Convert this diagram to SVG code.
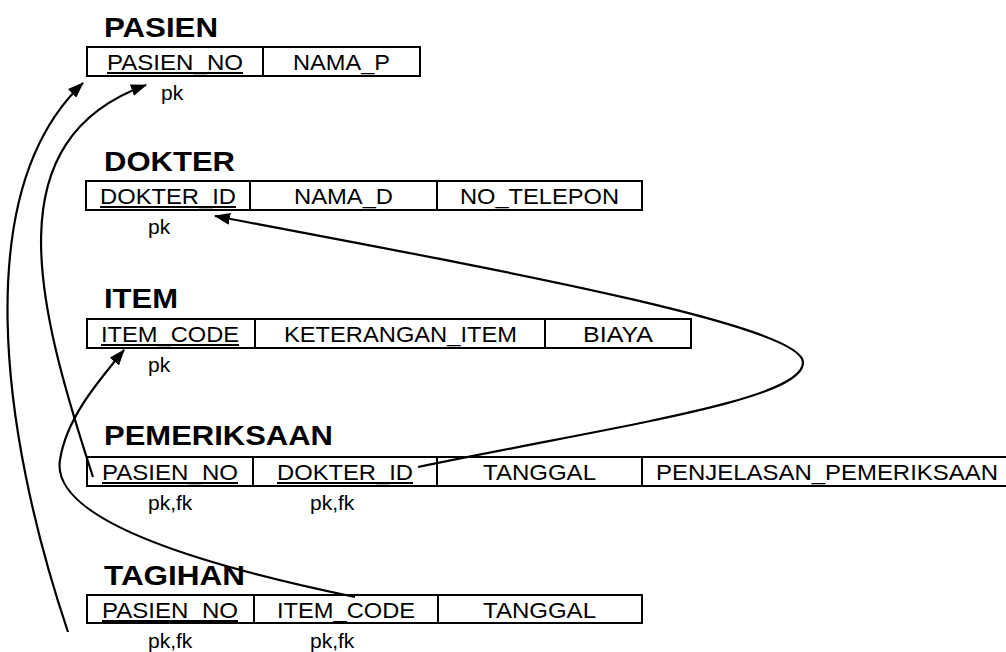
<svg xmlns="http://www.w3.org/2000/svg" width="1006" height="652" viewBox="0 0 1006 652">
<style>
  .title { font-family: "Liberation Sans", Arial, sans-serif; font-weight: bold; font-size: 28px; fill: #000; }
  .cell { font-family: "Liberation Sans", Arial, sans-serif; font-size: 22px; fill: #000; }
  .note { font-family: "Liberation Sans", Arial, sans-serif; font-size: 21px; fill: #000; }
  .box { fill: none; stroke: #000; stroke-width: 2; }
  .div { stroke: #000; stroke-width: 2; }
  .ul { stroke: #000; stroke-width: 2; }
  .conn { fill: none; stroke: #000; stroke-width: 2.2; }
</style>
<defs>
  <marker id="ah" viewBox="0 0 16 12" refX="15" refY="6" markerWidth="16" markerHeight="12" markerUnits="userSpaceOnUse" orient="auto">
    <path d="M0,0 L16,6 L0,12 z" fill="#000"/>
  </marker>
</defs>
<rect width="1006" height="652" fill="#fff"/>

<g id="pasien">
  <text class="title" x="104" y="37" textLength="114" lengthAdjust="spacingAndGlyphs">PASIEN</text>
  <rect class="box" x="87" y="47" width="333" height="29"/>
  <line class="div" x1="263" y1="47" x2="263" y2="76"/>
  <text class="cell" x="107" y="70" textLength="136" lengthAdjust="spacingAndGlyphs">PASIEN_NO</text>
  <line class="ul" x1="107" y1="73" x2="243" y2="73"/>
  <text class="cell" x="293" y="70" textLength="97" lengthAdjust="spacingAndGlyphs">NAMA_P</text>
  <text class="note" x="161" y="100">pk</text>
</g>

<g id="dokter">
  <text class="title" x="104" y="171" textLength="131" lengthAdjust="spacingAndGlyphs">DOKTER</text>
  <rect class="box" x="86" y="181" width="556" height="29"/>
  <line class="div" x1="250" y1="181" x2="250" y2="210"/>
  <line class="div" x1="437" y1="181" x2="437" y2="210"/>
  <text class="cell" x="100" y="204" textLength="136" lengthAdjust="spacingAndGlyphs">DOKTER_ID</text>
  <line class="ul" x1="100" y1="207" x2="236" y2="207"/>
  <text class="cell" x="294" y="204" textLength="99" lengthAdjust="spacingAndGlyphs">NAMA_D</text>
  <text class="cell" x="460" y="204" textLength="159" lengthAdjust="spacingAndGlyphs">NO_TELEPON</text>
  <text class="note" x="148" y="234">pk</text>
</g>

<g id="item">
  <text class="title" x="104" y="308" textLength="74" lengthAdjust="spacingAndGlyphs">ITEM</text>
  <rect class="box" x="87" y="319" width="604" height="29"/>
  <line class="div" x1="255" y1="319" x2="255" y2="348"/>
  <line class="div" x1="545" y1="319" x2="545" y2="348"/>
  <text class="cell" x="101" y="342" textLength="138" lengthAdjust="spacingAndGlyphs">ITEM_CODE</text>
  <line class="ul" x1="101" y1="345" x2="239" y2="345"/>
  <text class="cell" x="284" y="342" textLength="233" lengthAdjust="spacingAndGlyphs">KETERANGAN_ITEM</text>
  <text class="cell" x="583" y="342" textLength="70" lengthAdjust="spacingAndGlyphs">BIAYA</text>
  <text class="note" x="148" y="372">pk</text>
</g>

<g id="pemeriksaan">
  <text class="title" x="104" y="445" textLength="229" lengthAdjust="spacingAndGlyphs">PEMERIKSAAN</text>
  <rect class="box" x="87" y="457" width="940" height="29"/>
  <line class="div" x1="253" y1="457" x2="253" y2="486"/>
  <line class="div" x1="437" y1="457" x2="437" y2="486"/>
  <line class="div" x1="642" y1="457" x2="642" y2="486"/>
  <text class="cell" x="102" y="480" textLength="136" lengthAdjust="spacingAndGlyphs">PASIEN_NO</text>
  <line class="ul" x1="102" y1="483" x2="238" y2="483"/>
  <text class="cell" x="277" y="480" textLength="136" lengthAdjust="spacingAndGlyphs">DOKTER_ID</text>
  <line class="ul" x1="277" y1="483" x2="413" y2="483"/>
  <text class="cell" x="483" y="480" textLength="113" lengthAdjust="spacingAndGlyphs">TANGGAL</text>
  <text class="cell" x="656" y="480" textLength="342" lengthAdjust="spacingAndGlyphs">PENJELASAN_PEMERIKSAAN</text>
  <text class="note" x="148" y="510">pk,fk</text>
  <text class="note" x="310" y="510">pk,fk</text>
</g>

<g id="tagihan">
  <text class="title" x="104" y="585" textLength="141" lengthAdjust="spacingAndGlyphs">TAGIHAN</text>
  <rect class="box" x="87" y="595" width="555" height="28"/>
  <line class="div" x1="254" y1="595" x2="254" y2="623"/>
  <line class="div" x1="438" y1="595" x2="438" y2="623"/>
  <text class="cell" x="102" y="618" textLength="136" lengthAdjust="spacingAndGlyphs">PASIEN_NO</text>
  <line class="ul" x1="102" y1="621" x2="238" y2="621"/>
  <text class="cell" x="277" y="618" textLength="138" lengthAdjust="spacingAndGlyphs">ITEM_CODE</text>
  <text class="cell" x="483" y="618" textLength="113" lengthAdjust="spacingAndGlyphs">TANGGAL</text>
  <text class="note" x="148" y="648">pk,fk</text>
  <text class="note" x="310" y="648">pk,fk</text>
</g>

<g id="connectors">
  <path class="conn" marker-end="url(#ah)" d="M68,632 C 0,430 -30,190 83,83"/>
  <path class="conn" marker-end="url(#ah)" d="M93,477 C 35,300 -5,140 146,85"/>
  <path class="conn" marker-end="url(#ah)" d="M355,597 C 200,565 50,520 60,460 C 66,420 95,385 124,350"/>
  <path class="conn" marker-end="url(#ah)" d="M418,467 C 620,425 805,400 803,362 C 801,325 500,270 215,216"/>
</g>
</svg>
